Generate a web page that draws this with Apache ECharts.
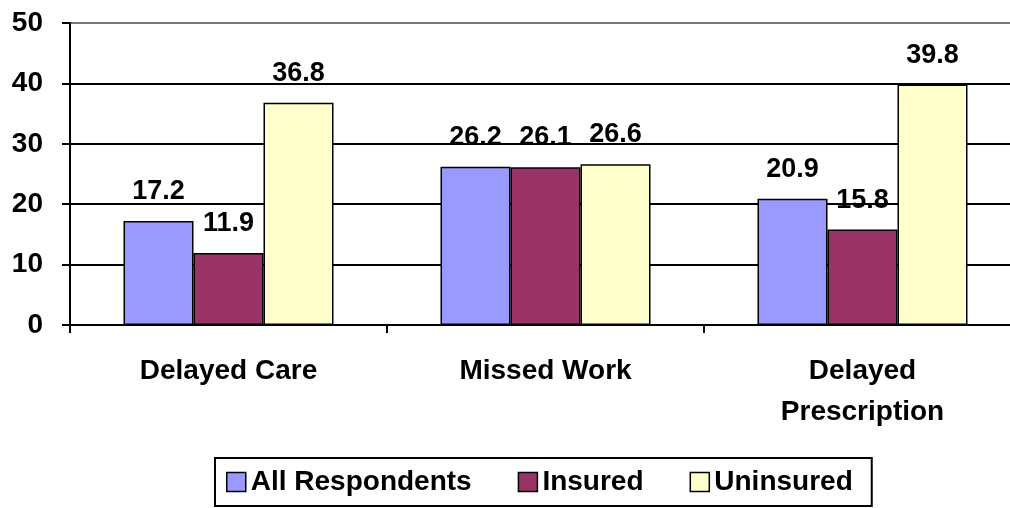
<!DOCTYPE html>
<html lang="en">
<head>
    <meta charset="UTF-8">
    <title>Delayed care, missed work, delayed prescription</title>
    <script type="text/javascript" src="https://cdn.jsdelivr.net/npm/echarts@6/dist/echarts.min.js"></script>
    <style>
        html, body { margin: 0; padding: 0; background: #fff; overflow: hidden; }
    </style>
</head>
<body>
    <!-- the plot area runs a little past the right edge of the picture, so the canvas is wider than the window -->
    <div id="main" style="width: 1024px;height:508px;"></div>
    <script type="text/javascript">
        const categories = ['Delayed Care', 'Missed Work', 'Delayed\nPrescription'];
        const seriesNames = ['All Respondents', 'Insured', 'Uninsured'];
        const allRespondents = [17.2, 26.2, 20.9];
        const insured = [11.9, 26.1, 15.8];
        const uninsured = [36.8, 26.6, 39.8];
        const yTicks = [0, 10, 20, 30, 40, 50];

        const colors = ['#9999FF', '#993366', '#FFFFCC'];
        const font = '"Liberation Sans", Arial, sans-serif';

        function makeSeries(name, data, color) {
            return {
                name: name,
                type: 'bar',
                data: data,
                barWidth: 70,
                barGap: '0%',
                itemStyle: {
                    color: color,
                    borderColor: '#000',
                    borderWidth: 1.5
                },
                label: {
                    show: true,
                    position: 'top',
                    distance: 16,
                    color: '#000',
                    fontFamily: font,
                    fontWeight: 'bold',
                    fontSize: 27
                }
            };
        }

        const myChart = echarts.init(document.getElementById('main'));
        const option = {
            animation: false,
            backgroundColor: '#fff',
            grid: {
                left: 70,
                right: 3,
                top: 23,
                bottom: 183
            },
            legend: {
                left: 215,
                top: 458,
                padding: [10, 19, 10, 11],
                itemGap: 46,
                itemWidth: 19,
                itemHeight: 19,
                borderColor: '#000',
                borderWidth: 2,
                borderRadius: 0,
                icon: 'rect',
                itemStyle: { borderColor: '#000', borderWidth: 1.5 },
                textStyle: {
                    color: '#000',
                    fontFamily: font,
                    fontWeight: 'bold',
                    fontSize: 28
                },
                data: seriesNames
            },
            xAxis: {
                type: 'category',
                data: categories,
                axisLine: { lineStyle: { color: '#000', width: 2 } },
                axisTick: { show: true, length: 8, lineStyle: { color: '#000', width: 2 } },
                axisLabel: {
                    margin: 26,
                    color: '#000',
                    fontFamily: font,
                    fontWeight: 'bold',
                    fontSize: 28,
                    lineHeight: 41
                }
            },
            yAxis: {
                type: 'value',
                min: yTicks[0],
                max: yTicks[yTicks.length - 1],
                interval: 10,
                axisLine: { show: true, lineStyle: { color: '#000', width: 2 } },
                axisTick: { show: true, length: 8, lineStyle: { color: '#000', width: 2 } },
                splitLine: {
                    show: true,
                    lineStyle: {
                        color: ['#000', '#000', '#000', '#000', '#000', '#777'],
                        width: 2
                    }
                },
                axisLabel: {
                    margin: 27,
                    color: '#000',
                    fontFamily: font,
                    fontWeight: 'bold',
                    fontSize: 28
                }
            },
            series: [
                makeSeries(seriesNames[0], allRespondents, colors[0]),
                makeSeries(seriesNames[1], insured, colors[1]),
                makeSeries(seriesNames[2], uninsured, colors[2])
            ]
        };
        myChart.setOption(option);
    </script>
</body>
</html>
